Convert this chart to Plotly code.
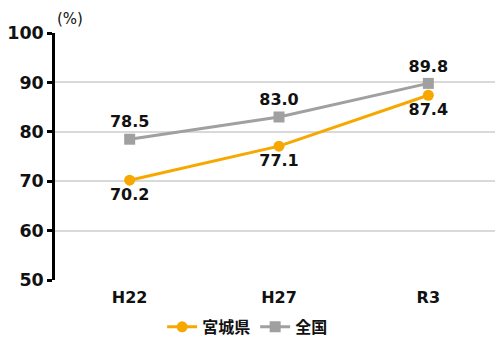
import plotly.graph_objects as go

categories = ["H22", "H27", "R3"]
miyagi = [70.2, 77.1, 87.4]
national = [78.5, 83.0, 89.8]
miyagi_name = "宮城県"
national_name = "全国"

orange = "#F7A800"
gray = "#A0A0A0"
font_family = "DejaVu Sans, Verdana, Noto Sans CJK JP"

fig = go.Figure()
fig.add_trace(go.Scatter(
    x=categories, y=miyagi, name=miyagi_name, mode="lines+markers+text",
    line=dict(color=orange, width=3), marker=dict(symbol="circle", size=11, color=orange),
    text=[f"{v:.1f}" for v in miyagi], textposition="bottom center",
    textfont=dict(size=16, color="#111", family=font_family, weight="bold"),
))
fig.add_trace(go.Scatter(
    x=categories, y=national, name=national_name, mode="lines+markers+text",
    line=dict(color=gray, width=3), marker=dict(symbol="square", size=11, color=gray),
    text=[f"{v:.1f}" for v in national], textposition="top center",
    textfont=dict(size=16, color="#111", family=font_family, weight="bold"),
))

# page body has an 8px default margin, so the figure is sized/offset to compensate
fig.update_layout(
    width=495, height=330,
    margin=dict(l=47, r=0, t=25, b=58, autoexpand=False),
    plot_bgcolor="white", paper_bgcolor="white",
    font=dict(family=font_family, color="#111"),
    showlegend=True,
    legend=dict(orientation="h", x=0.43, xanchor="center", y=-0.19, yanchor="middle",
                font=dict(size=16, family="Noto Sans CJK JP", weight="bold"),
                traceorder="normal"),
    xaxis=dict(showgrid=False, showline=False, zeroline=False, ticks="",
               tickfont=dict(size=16, family=font_family, weight="bold"),
               ticklabelstandoff=6,
               range=[-0.5, 2.5]),
    yaxis=dict(range=[50, 100], dtick=10, showgrid=True, gridcolor="#D9D9D9", gridwidth=1.5,
               showline=True, linecolor="black", linewidth=2.5, ticks="outside",
               ticklen=5, tickwidth=2.5, tickcolor="black", zeroline=False,
               tickfont=dict(size=17.5, family=font_family, weight="bold")),
    annotations=[dict(text="(%)", xref="x domain", yref="y domain", x=0.0, y=1.0,
                      xanchor="left", yanchor="bottom", yshift=3, showarrow=False,
                      font=dict(size=15, family=font_family, color="#111"))],
)
fig.write_html("out.html")
